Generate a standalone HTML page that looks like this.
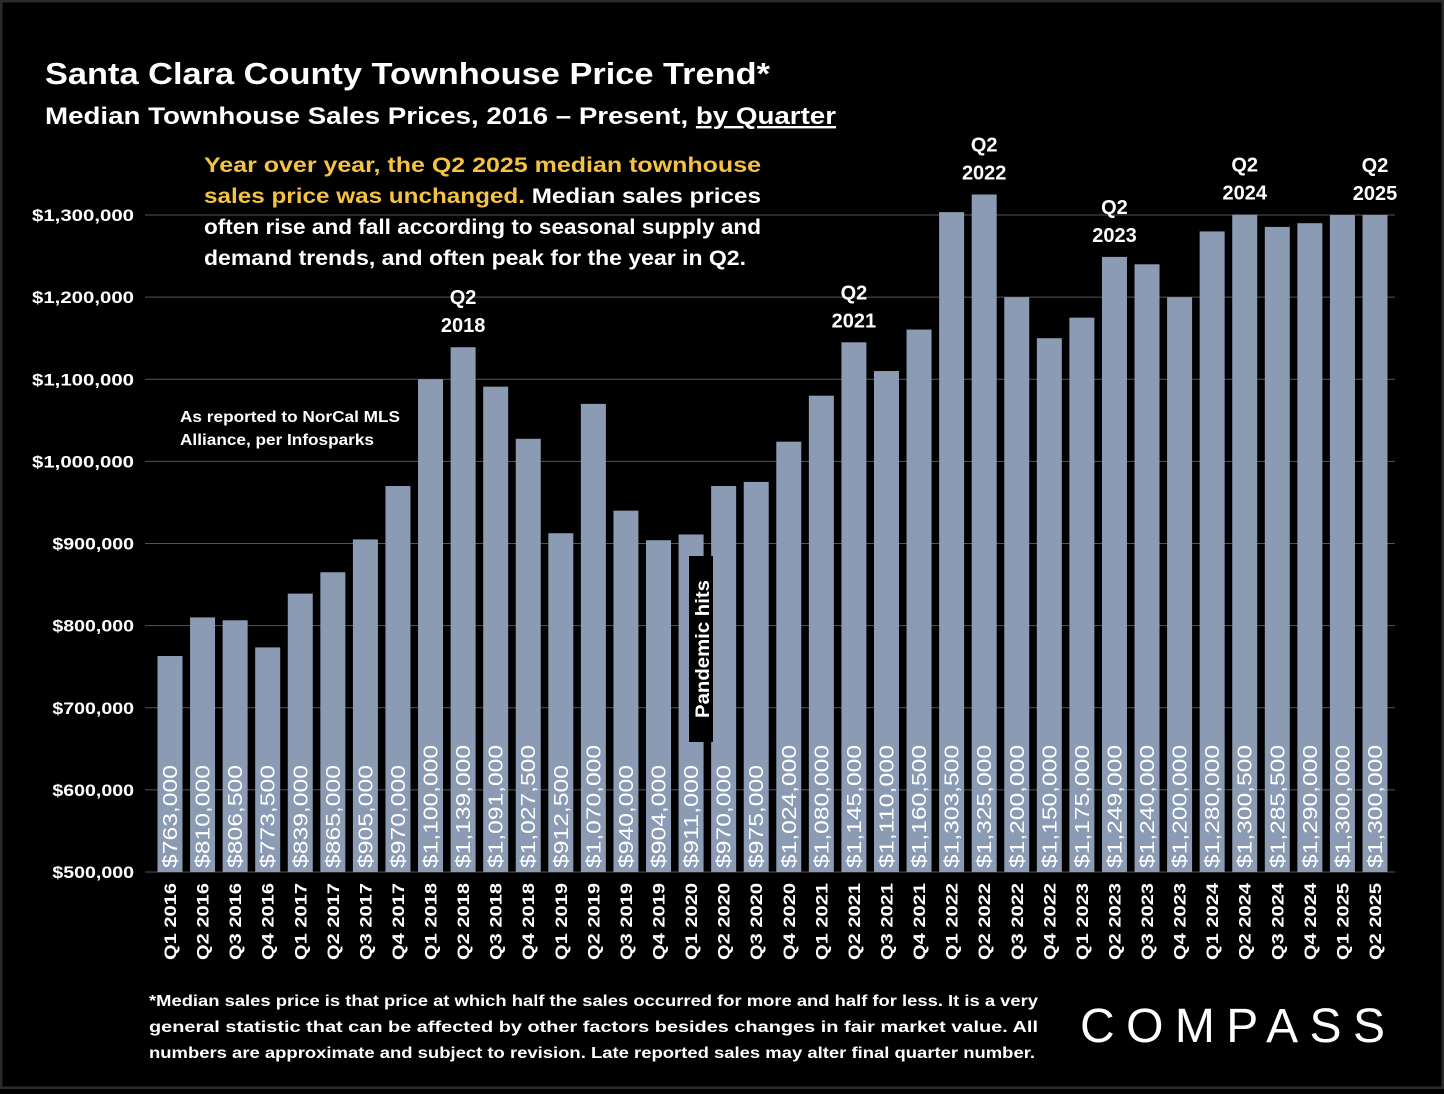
<!DOCTYPE html>
<html><head><meta charset="utf-8">
<style>
html,body{margin:0;padding:0;background:#000;}
body{width:1444px;height:1089px;overflow:hidden;font-family:"Liberation Sans",Arial,sans-serif;}
svg text{font-family:"Liberation Sans",Arial,sans-serif;}
</style></head>
<body>
<svg id="chart" width="1444" height="1089" xmlns="http://www.w3.org/2000/svg">
<rect x="0" y="0" width="1444" height="1089" fill="#000"/>
<rect x="1" y="1" width="1442" height="1087" fill="none" stroke="#2a2a2a" stroke-width="3"/>
<text x="45" y="84" fill="#fff" font-size="31" font-weight="bold" textLength="725" lengthAdjust="spacingAndGlyphs">Santa Clara County Townhouse Price Trend*</text>
<text x="45" y="124" fill="#fff" font-size="24" font-weight="bold" textLength="791" lengthAdjust="spacingAndGlyphs">Median Townhouse Sales Prices, 2016 – Present, <tspan text-decoration="underline">by Quarter</tspan></text>
<g id="grid"></g>
<g id="yaxis"></g>
<g id="bars"></g>
<g id="xaxis"></g>
<g id="notes"></g>
<g font-size="21" font-weight="bold">
<text x="204" y="172" fill="#f5c242" textLength="557" lengthAdjust="spacingAndGlyphs">Year over year, the Q2 2025 median townhouse</text>
<text x="204" y="203" fill="#f5c242" textLength="557" lengthAdjust="spacingAndGlyphs">sales price was unchanged. <tspan fill="#fff">Median sales prices</tspan></text>
<text x="204" y="234" fill="#fff" textLength="557" lengthAdjust="spacingAndGlyphs">often rise and fall according to seasonal supply and</text>
<text x="204" y="265" fill="#fff" textLength="542" lengthAdjust="spacingAndGlyphs">demand trends, and often peak for the year in Q2.</text>
</g>
<g font-size="16" font-weight="bold" fill="#fff">
<text x="180" y="422" textLength="220" lengthAdjust="spacingAndGlyphs">As reported to NorCal MLS</text>
<text x="180" y="445" textLength="194" lengthAdjust="spacingAndGlyphs">Alliance, per Infosparks</text>
</g>
<g>
<rect x="689" y="556" width="24" height="186" fill="#000"/>
<text transform="translate(709,649) rotate(-90)" text-anchor="middle" fill="#fff" font-size="19" font-weight="bold" textLength="138" lengthAdjust="spacingAndGlyphs">Pandemic hits</text>
</g>
<g font-size="16" font-weight="bold" fill="#fff">
<text x="149" y="1006" textLength="889" lengthAdjust="spacingAndGlyphs">*Median sales price is that price at which half the sales occurred for more and half for less. It is a very</text>
<text x="149" y="1032" textLength="889" lengthAdjust="spacingAndGlyphs">general statistic that can be affected by other factors besides changes in fair market value. All</text>
<text x="149" y="1058" textLength="886" lengthAdjust="spacingAndGlyphs">numbers are approximate and subject to revision. Late reported sales may alter final quarter number.</text>
</g>
<text x="1080" y="1042" fill="#fff" font-size="48" textLength="305" lengthAdjust="spacing">COMPASS</text>
</svg>
<script>
const categories=["Q1 2016","Q2 2016","Q3 2016","Q4 2016","Q1 2017","Q2 2017","Q3 2017","Q4 2017","Q1 2018","Q2 2018","Q3 2018","Q4 2018","Q1 2019","Q2 2019","Q3 2019","Q4 2019","Q1 2020","Q2 2020","Q3 2020","Q4 2020","Q1 2021","Q2 2021","Q3 2021","Q4 2021","Q1 2022","Q2 2022","Q3 2022","Q4 2022","Q1 2023","Q2 2023","Q3 2023","Q4 2023","Q1 2024","Q2 2024","Q3 2024","Q4 2024","Q1 2025","Q2 2025"];
const values=[763000,810000,806500,773500,839000,865000,905000,970000,1100000,1139000,1091000,1027500,912500,1070000,940000,904000,911000,970000,975000,1024000,1080000,1145000,1110000,1160500,1303500,1325000,1200000,1150000,1175000,1249000,1240000,1200000,1280000,1300500,1285500,1290000,1300000,1300000];
const yTicks=[500000,600000,700000,800000,900000,1000000,1100000,1200000,1300000];
const peakLabels=["Q2 2018","Q2 2021","Q2 2022","Q2 2023","Q2 2024","Q2 2025"];
const NS="http://www.w3.org/2000/svg";
const y0=872,pxPer=657/800000,x0=170,step=(1375-170)/37,bw=25;
const y=v=>y0-(v-500000)*pxPer;
const x=i=>x0+i*step;
function mk(tag,attrs,parent){const e=document.createElementNS(NS,tag);for(const k in attrs)e.setAttribute(k,attrs[k]);parent.appendChild(e);return e;}
const fmt=v=>"$"+v.toLocaleString("en-US");
const grid=document.getElementById("grid"),ya=document.getElementById("yaxis"),bars=document.getElementById("bars"),xa=document.getElementById("xaxis"),notes=document.getElementById("notes");
yTicks.forEach(t=>{
 const l=mk("line",{x1:145,x2:1395,y1:y(t),y2:y(t),stroke:"#555","stroke-width":1},grid);
 
 
 const s=fmt(t);
 const tx=mk("text",{x:134,y:y(t)+6,"text-anchor":"end",fill:"#fff","font-size":17,"font-weight":"bold",textLength:s.length*10.2,lengthAdjust:"spacingAndGlyphs"},ya);
 tx.textContent=s;
 
 
});
values.forEach((v,i)=>{
 const r=mk("rect",{x:x(i)-bw/2,y:y(v),width:bw,height:y0-y(v),fill:"#8b9bb4"},bars);
 
 
 const s=fmt(v);
 const vl=mk("text",{transform:`translate(${x(i)+7},${y0-4}) rotate(-90)`,fill:"#fff","font-size":20,textLength:s.length*10+23,lengthAdjust:"spacingAndGlyphs"},bars);
 vl.textContent=s;
 
 
 const xl=mk("text",{transform:`translate(${x(i)+6},${y0+11}) rotate(-90)`,"text-anchor":"end",fill:"#fff","font-size":17,"font-weight":"bold",textLength:77,lengthAdjust:"spacingAndGlyphs"},xa);
 xl.textContent=categories[i];
 
 
 const pi=peakLabels.indexOf(categories[i]);
 if(pi>=0){
  const parts=categories[i].split(" ");
  const a=mk("text",{x:x(i),y:y(v)-43,"text-anchor":"middle",fill:"#fff","font-size":20,"font-weight":"bold"},notes);
  a.textContent=parts[0];
  
  
  const b=mk("text",{x:x(i),y:y(v)-15,"text-anchor":"middle",fill:"#fff","font-size":20,"font-weight":"bold"},notes);
  b.textContent=parts[1];
  
  
 }
});
</script>
</body></html>
